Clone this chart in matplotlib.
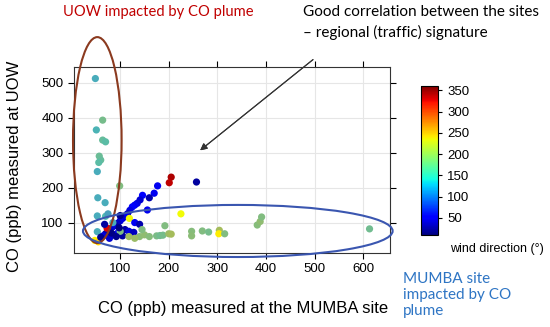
import numpy as np
import matplotlib
matplotlib.use('Agg')
import matplotlib.pyplot as plt
from matplotlib.patches import Ellipse
from matplotlib.colors import Normalize

# datos: CO en MUMBA, CO en UOW, direccion del viento
co_mumba = [49, 64, 51, 64, 70, 57, 60, 56, 53, 99, 54, 69, 53, 70, 53, 62, 48, 55,
            205, 201, 257, 177, 170, 160, 146, 141, 135, 130, 156, 125, 120, 115,
            110, 105, 100, 95, 90, 85, 80, 75, 70, 65, 60, 88, 95, 110, 73, 119,
            100, 130, 140, 118, 128, 105, 78, 225, 192, 175, 182, 188, 200, 205,
            247, 247, 269, 282, 304, 303, 315, 382, 388, 391, 613, 140, 150, 160,
            130, 118, 145, 100, 85, 75, 82, 92, 98, 68]
co_uow = [512, 393, 365, 336, 331, 290, 279, 272, 246, 205, 171, 157, 119, 118, 74, 60,
          49, 45, 230, 214, 216, 205, 184, 171, 178, 165, 155, 150, 136, 145, 135,
          125, 118, 112, 105, 98, 92, 88, 82, 75, 68, 62, 58, 65, 70, 80, 84, 112,
          120, 100, 95, 75, 72, 62, 55, 125, 91, 62, 63, 64, 68, 67, 75, 62, 76,
          73, 78, 68, 68, 93, 103, 116, 82, 60, 65, 60, 55, 60, 80, 75, 100, 125,
          70, 60, 85, 95]
wind_dir = [130, 175, 135, 160, 150, 165, 160, 150, 130, 185, 130, 130, 130, 140, 130,
            120, 240, 250, 345, 340, 20, 45, 45, 25, 50, 35, 40, 45, 45, 50, 40, 30,
            45, 35, 40, 30, 20, 40, 35, 30, 25, 40, 15, 30, 45, 20, 330, 235, 15, 45,
            25, 40, 30, 20, 35, 235, 185, 180, 170, 175, 210, 220, 190, 195, 185,
            175, 220, 240, 185, 190, 200, 185, 170, 195, 200, 190, 210, 215, 185,
            180, 130, 120, 12, 15, 10, 20]

cbar_ticks = [50, 100, 150, 200, 250, 300, 350]
x_ticks = [100, 200, 300, 400, 500, 600]
y_ticks = [100, 200, 300, 400, 500]

plt.rcParams['font.family'] = ['Liberation Sans', 'DejaVu Sans']

fig = plt.figure(figsize=(5.5, 3.27), dpi=100)
ax = fig.add_axes([0.1345, 0.2263, 0.5745, 0.5688])

norm = Normalize(10, 360)
cmap = plt.get_cmap('jet')

# los puntos de 100-225 grados salen apagados (grisaceos) en la figura original
wd = np.array(wind_dir)
colores = cmap(norm(wd))
apagados = (wd > 100) & (wd < 225)
colores[apagados, :3] = 0.45 * colores[apagados, :3] + 0.55 * 0.52

ax.scatter(co_mumba, co_uow, c=colores, s=27, linewidths=0, zorder=3)

ax.set_xlim(5, 655)
ax.set_ylim(13, 545)
ax.set_xticks(x_ticks)
ax.set_yticks(y_ticks)
ax.tick_params(axis='both', direction='out', length=4, labelsize=9.5,
               top=True, right=True, width=0.8)
ax.grid(True, color='#e6e6e6', lw=0.8, zorder=0)
for s in ax.spines.values():
    s.set_linewidth(0.8)
    s.set_color('#333333')

fig.text(0.027, 0.49, 'CO (ppb) measured at UOW', rotation=90, ha='center',
         va='center', fontsize=12)
fig.text(0.442, 0.058, 'CO (ppb) measured at the MUMBA site', ha='center',
         va='center', fontsize=12)

# elipses que marcan los eventos
ax.add_patch(Ellipse((53, 336), 100, 589, fill=False, ec='#8b3a1f', lw=1.5,
                     clip_on=False, zorder=4))
ax.add_patch(Ellipse((342, 76), 637, 149, fill=False, ec='#3a56b0', lw=1.5,
                     clip_on=False, zorder=4))

# barra de color
cax = fig.add_axes([0.7655, 0.2813, 0.031, 0.4557])
sm = plt.cm.ScalarMappable(norm=norm, cmap=cmap)
cb = fig.colorbar(sm, cax=cax, ticks=cbar_ticks)
cb.ax.tick_params(labelsize=9.5, length=3, width=0.8)
cb.outline.set_linewidth(0.8)
fig.text(0.818, 0.238, 'wind direction (°)', ha='left', va='center', fontsize=9)

# textos de anotacion
fig.text(0.115, 0.963, 'UOW impacted by CO plume', color='#c00000',
         fontsize=10.6, family='Lato', ha='left', va='center')
fig.text(0.551, 0.963, 'Good correlation between the sites', color='black',
         fontsize=11, family='Lato', ha='left', va='center')
fig.text(0.551, 0.902, '\u2013 regional (traffic) signature', color='black',
         fontsize=11, family='Lato', ha='left', va='center')
fig.text(0.733, 0.098, 'MUMBA site\nimpacted by CO\nplume', color='#2e75c4',
         fontsize=11, family='Lato', ha='left', va='center', linespacing=1.2)

fig.add_artist(plt.annotate('', xy=(0.36, 0.535), xytext=(0.573, 0.823),
                            xycoords='figure fraction',
                            arrowprops=dict(arrowstyle='-|>', color='#333333',
                                            lw=0.8, mutation_scale=10)))

plt.savefig('out.png', dpi=100)
